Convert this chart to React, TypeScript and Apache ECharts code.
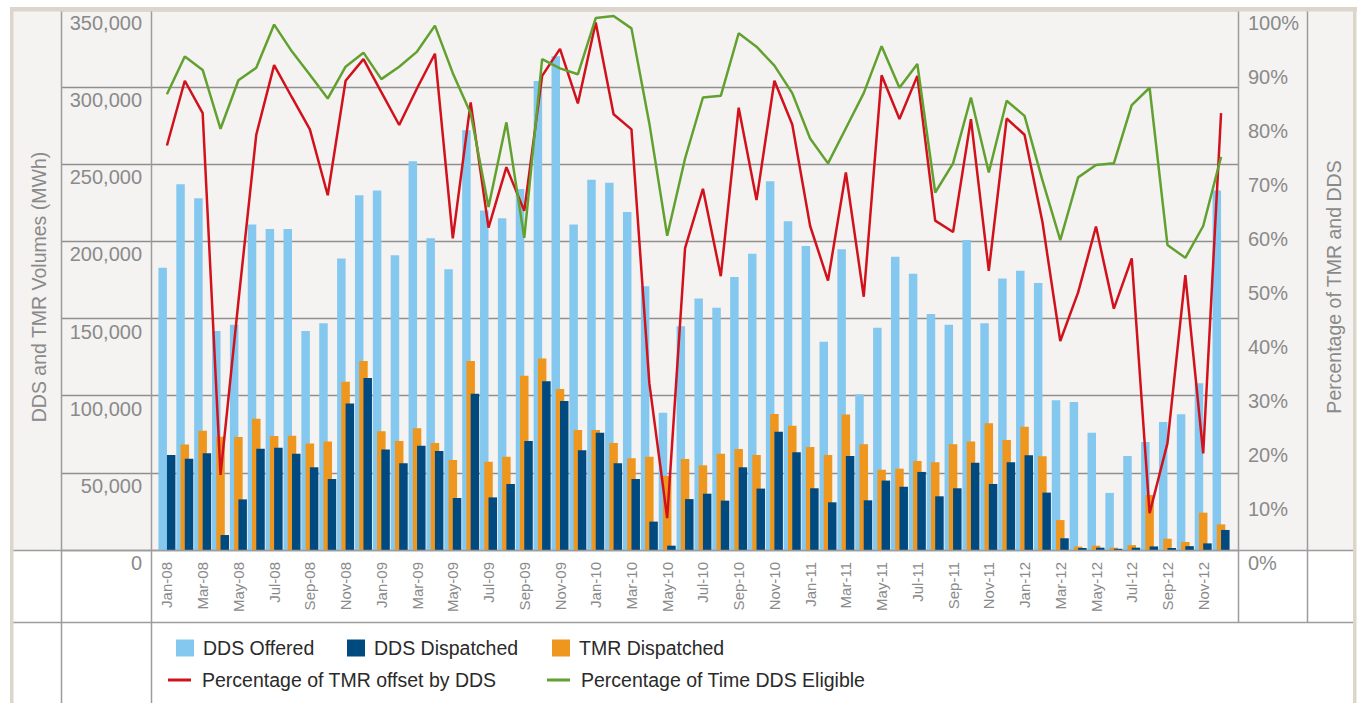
import React, { useEffect, useRef } from 'react';
import * as echarts from 'echarts';

const months = [
  'Jan-08','Feb-08','Mar-08','Apr-08','May-08','Jun-08','Jul-08','Aug-08','Sep-08','Oct-08','Nov-08','Dec-08',
  'Jan-09','Feb-09','Mar-09','Apr-09','May-09','Jun-09','Jul-09','Aug-09','Sep-09','Oct-09','Nov-09','Dec-09',
  'Jan-10','Feb-10','Mar-10','Apr-10','May-10','Jun-10','Jul-10','Aug-10','Sep-10','Oct-10','Nov-10','Dec-10',
  'Jan-11','Feb-11','Mar-11','Apr-11','May-11','Jun-11','Jul-11','Aug-11','Sep-11','Oct-11','Nov-11','Dec-11',
  'Jan-12','Feb-12','Mar-12','Apr-12','May-12','Jun-12','Jul-12','Aug-12','Sep-12','Oct-12','Nov-12','Dec-12'
];

const ddsOffered = [
  183000, 237000, 228000, 142000, 146000, 211000, 208000, 208000, 142000, 147000, 189000, 230000,
  233000, 191000, 252000, 202000, 182000, 272000, 220000, 215000, 234000, 304000, 320000, 211000,
  240000, 238000, 219000, 171000, 89000, 145000, 163000, 157000, 177000, 192000, 239000, 213000,
  197000, 135000, 195000, 101000, 144000, 190000, 179000, 153000, 146000, 201000, 147000, 176000,
  181000, 173000, 97000, 96000, 76000, 37000, 61000, 70000, 83000, 88000, 108000, 233000
];

const ddsDispatched = [
  61600, 59200, 62700, 9700, 32800, 65700, 66300, 62400, 53600, 46000, 95000, 111500,
  65200, 56200, 67600, 64200, 33700, 101300, 34100, 42800, 70600, 109300, 96600, 64600,
  76000, 56200, 46000, 18400, 2800, 33000, 36500, 32000, 53600, 39800, 76700, 63300,
  40000, 30900, 61000, 32200, 45000, 41000, 50600, 34800, 40000, 56600, 42800, 56800,
  61400, 37200, 7600, 1300, 1500, 800, 1500, 2300, 1300, 2500, 4300, 13000
];

const tmrDispatched = [
  null, 68300, 77300, 73400, 73200, 85100, 73900, 74100, 69100, 70400, 109000, 122500,
  76900, 70600, 78900, 69300, 58300, 122500, 57200, 60500, 113000, 124200, 104300, 77800,
  77800, 69300, 59400, 60500, 48000, 59000, 54900, 62400, 65500, 61600, 88100, 80600,
  66800, 61600, 87900, 68500, 52000, 52700, 57700, 56800, 68500, 70400, 82100, 71300,
  79900, 60700, 19400, 2200, 2800, 1500, 3200, 35600, 7300, 5200, 24200, 16600
];

const pctTmrOffset = [
  74.9, 86.9, 80.9, 13.9, 46, 76.9, 89.8, 83.8, 77.9, 65.7, 86.9, 90.9,
  84.8, 78.7, 85.5, 91.9, 57.7, 82.9, 59.7, 70.9, 62.8, 87.8, 92.8, 82.7,
  97.7, 80.7, 77.9, 30.9, 5.9, 55.9, 66.9, 50.7, 81.9, 64.8, 86.9, 78.8,
  60, 49.9, 69.9, 46.9, 87.9, 79.8, 87.8, 61, 58.9, 79.8, 51.7, 79.9,
  76.9, 60.8, 38.7, 47.7, 59.9, 44.7, 54, 6.8, 19.8, 50.9, 17.9, 80.9
];

const pctEligible = [
  84.4, 91.4, 88.9, 78, 87, 89.3, 97.3, 92.3, 88, 83.6, 89.5, 92.1,
  87.2, 89.5, 92.3, 97.1, 88.3, 80.9, 63.5, 79.2, 57.8, 90.9, 89.2, 88.1,
  98.5, 98.9, 96.6, 79, 58.2, 72.5, 83.8, 84.1, 95.7, 93.2, 89.7, 84.6,
  76.2, 71.6, 78.1, 84.6, 93.3, 85.6, 90, 66.2, 71.6, 83.8, 69.9, 83.2,
  80.4, 68.5, 57.4, 69, 71.3, 71.6, 82.4, 85.6, 56.5, 54.1, 60, 72.8
];

const FONT = '"Liberation Sans", Arial, Helvetica, sans-serif';
const LABEL_GRAY = '#8a8a8a';
const FRAME = '#9c9c9c';
const BEIGE = '#ddd5cc';
const C_OFFERED = '#85c8ef';
const C_DISP = '#004a80';
const C_TMR = '#ee961d';
const C_RED = '#d1121d';
const C_GREEN = '#62a12f';

export default function App() {
  const ref = useRef<HTMLDivElement>(null);

  useEffect(() => {
    const chart = echarts.init(ref.current as HTMLDivElement, null, { renderer: 'svg' });

    const ln = (x1: number, y1: number, x2: number, y2: number, z = 100) => ({
      type: 'line',
      silent: true,
      z,
      shape: { x1, y1, x2, y2 },
      style: { stroke: FRAME, lineWidth: 1.5 },
    });

    const legendBase = {
      selectedMode: false,
      padding: 0,
      orient: 'horizontal',
      textStyle: { fontSize: 19.5, color: '#2a2a2a', fontFamily: FONT },
    };

    const squareLegend = (name: string, left: number) => ({
      ...legendBase,
      left,
      top: 638,
      icon: 'rect',
      itemWidth: 18,
      itemHeight: 17,
      data: [name],
      textStyle: { ...legendBase.textStyle, padding: [0, 0, 0, 4] },
    });
    const lineLegend = (name: string, left: number) => ({
      ...legendBase,
      left,
      top: 670,
      icon: 'rect',
      itemWidth: 23,
      itemHeight: 3,
      data: [name],
      textStyle: { ...legendBase.textStyle, padding: [0, 0, 0, 6] },
    });

    const option: any = {
      animation: false,
      backgroundColor: '#ffffff',
      textStyle: { fontFamily: FONT },
      grid: [
        { left: 158, top: 10, width: 1072, height: 540, containLabel: false },
        { left: 61, top: 10, width: 1177, height: 540, containLabel: false },
      ],
      xAxis: [
        {
          gridIndex: 0,
          type: 'category',
          data: months,
          boundaryGap: true,
          axisLine: { show: false },
          axisTick: { show: false },
          axisLabel: {
            interval: 1,
            rotate: 90,
            margin: 12,
            fontSize: 15,
            color: LABEL_GRAY,
            fontFamily: FONT,
          },
        },
        { gridIndex: 1, type: 'value', show: false, min: 0, max: 1 },
      ],
      yAxis: [
        {
          gridIndex: 0,
          type: 'value',
          position: 'left',
          min: 0,
          max: 350000,
          interval: 50000,
          axisLine: { show: false },
          axisTick: { show: false },
          splitLine: { show: false },
          axisLabel: {
            margin: 16,
            fontSize: 20,
            color: LABEL_GRAY,
            fontFamily: FONT,
            verticalAlign: 'top',
            padding: [3, 0, 0, 0],
            formatter: (v: number) => v.toLocaleString('en-US'),
          },
        },
        {
          gridIndex: 0,
          type: 'value',
          position: 'right',
          min: 0,
          max: 100,
          interval: 10,
          axisLine: { show: false },
          axisTick: { show: false },
          splitLine: { show: false },
          axisLabel: {
            margin: 18,
            fontSize: 20,
            color: LABEL_GRAY,
            fontFamily: FONT,
            verticalAlign: 'top',
            padding: [3, 0, 0, 0],
            formatter: '{value}%',
          },
        },
        {
          gridIndex: 1,
          type: 'value',
          min: 0,
          max: 350000,
          interval: 50000,
          axisLine: { show: false },
          axisTick: { show: false },
          axisLabel: { show: false },
          splitLine: { show: true, lineStyle: { color: '#8f8f8f', width: 1.3 } },
        },
      ],
      legend: [
        squareLegend('DDS Offered', 176),
        squareLegend('DDS Dispatched', 347),
        squareLegend('TMR Dispatched', 552),
        lineLegend('Percentage of TMR offset by DDS', 168),
        lineLegend('Percentage of Time DDS Eligible', 547),
      ],
      series: [
        {
          name: 'DDS Offered',
          type: 'bar',
          xAxisIndex: 0,
          yAxisIndex: 0,
          data: ddsOffered,
          barWidth: 8.5,
          barGap: '-50%',
          itemStyle: { color: C_OFFERED },
          z: 2,
        },
        {
          name: 'TMR Dispatched',
          type: 'bar',
          xAxisIndex: 0,
          yAxisIndex: 0,
          data: tmrDispatched,
          barWidth: 8.5,
          barGap: '-50%',
          itemStyle: { color: C_TMR },
          z: 2,
        },
        {
          name: 'DDS Dispatched',
          type: 'bar',
          xAxisIndex: 0,
          yAxisIndex: 0,
          data: ddsDispatched,
          barWidth: 8.5,
          barGap: '-50%',
          itemStyle: { color: C_DISP },
          z: 2,
        },
        {
          name: 'Percentage of TMR offset by DDS',
          type: 'line',
          xAxisIndex: 0,
          yAxisIndex: 1,
          data: pctTmrOffset,
          symbol: 'none',
          lineStyle: { color: C_RED, width: 2.5 },
          itemStyle: { color: C_RED },
          z: 3,
        },
        {
          name: 'Percentage of Time DDS Eligible',
          type: 'line',
          xAxisIndex: 0,
          yAxisIndex: 1,
          data: pctEligible,
          symbol: 'none',
          lineStyle: { color: C_GREEN, width: 2.5 },
          itemStyle: { color: C_GREEN },
          z: 4,
        },
      ],
      graphic: [
        {
          type: 'rect',
          silent: true,
          z: -10,
          shape: { x: 13, y: 10, width: 1340, height: 540 },
          style: { fill: '#f4f3f1' },
        },
        ln(61.5, 10, 61.5, 703),
        ln(151.5, 10, 151.5, 703),
        ln(1238.5, 10, 1238.5, 622),
        ln(1307.5, 10, 1307.5, 622),
        ln(13, 550.5, 1353, 550.5),
        ln(13, 622.5, 1353, 622.5),
        {
          type: 'rect', silent: true, z: 200,
          shape: { x: 10, y: 7, width: 1347, height: 4.5 },
          style: { fill: BEIGE },
        },
        {
          type: 'rect', silent: true, z: 200,
          shape: { x: 10, y: 7, width: 3.5, height: 696 },
          style: { fill: BEIGE },
        },
        {
          type: 'rect', silent: true, z: 200,
          shape: { x: 1353, y: 7, width: 3.5, height: 696 },
          style: { fill: BEIGE },
        },
        {
          type: 'text',
          silent: true,
          z: 100,
          x: 39,
          y: 287,
          rotation: Math.PI / 2,
          style: {
            text: 'DDS and TMR Volumes (MWh)',
            fontSize: 19.5,
            fontFamily: FONT,
            fill: LABEL_GRAY,
            textAlign: 'center',
            textVerticalAlign: 'middle',
          },
        },
        {
          type: 'text',
          silent: true,
          z: 100,
          x: 1333.5,
          y: 287,
          rotation: Math.PI / 2,
          style: {
            text: 'Percentage of TMR and DDS',
            fontSize: 19.5,
            fontFamily: FONT,
            fill: LABEL_GRAY,
            textAlign: 'center',
            textVerticalAlign: 'middle',
          },
        },
      ],
    };

    chart.setOption(option);
    return () => {
      chart.dispose();
    };
  }, []);

  return (
    <div
      ref={ref}
      style={{ position: 'fixed', left: 0, top: 0, width: 1357, height: 703 }}
    />
  );
}
